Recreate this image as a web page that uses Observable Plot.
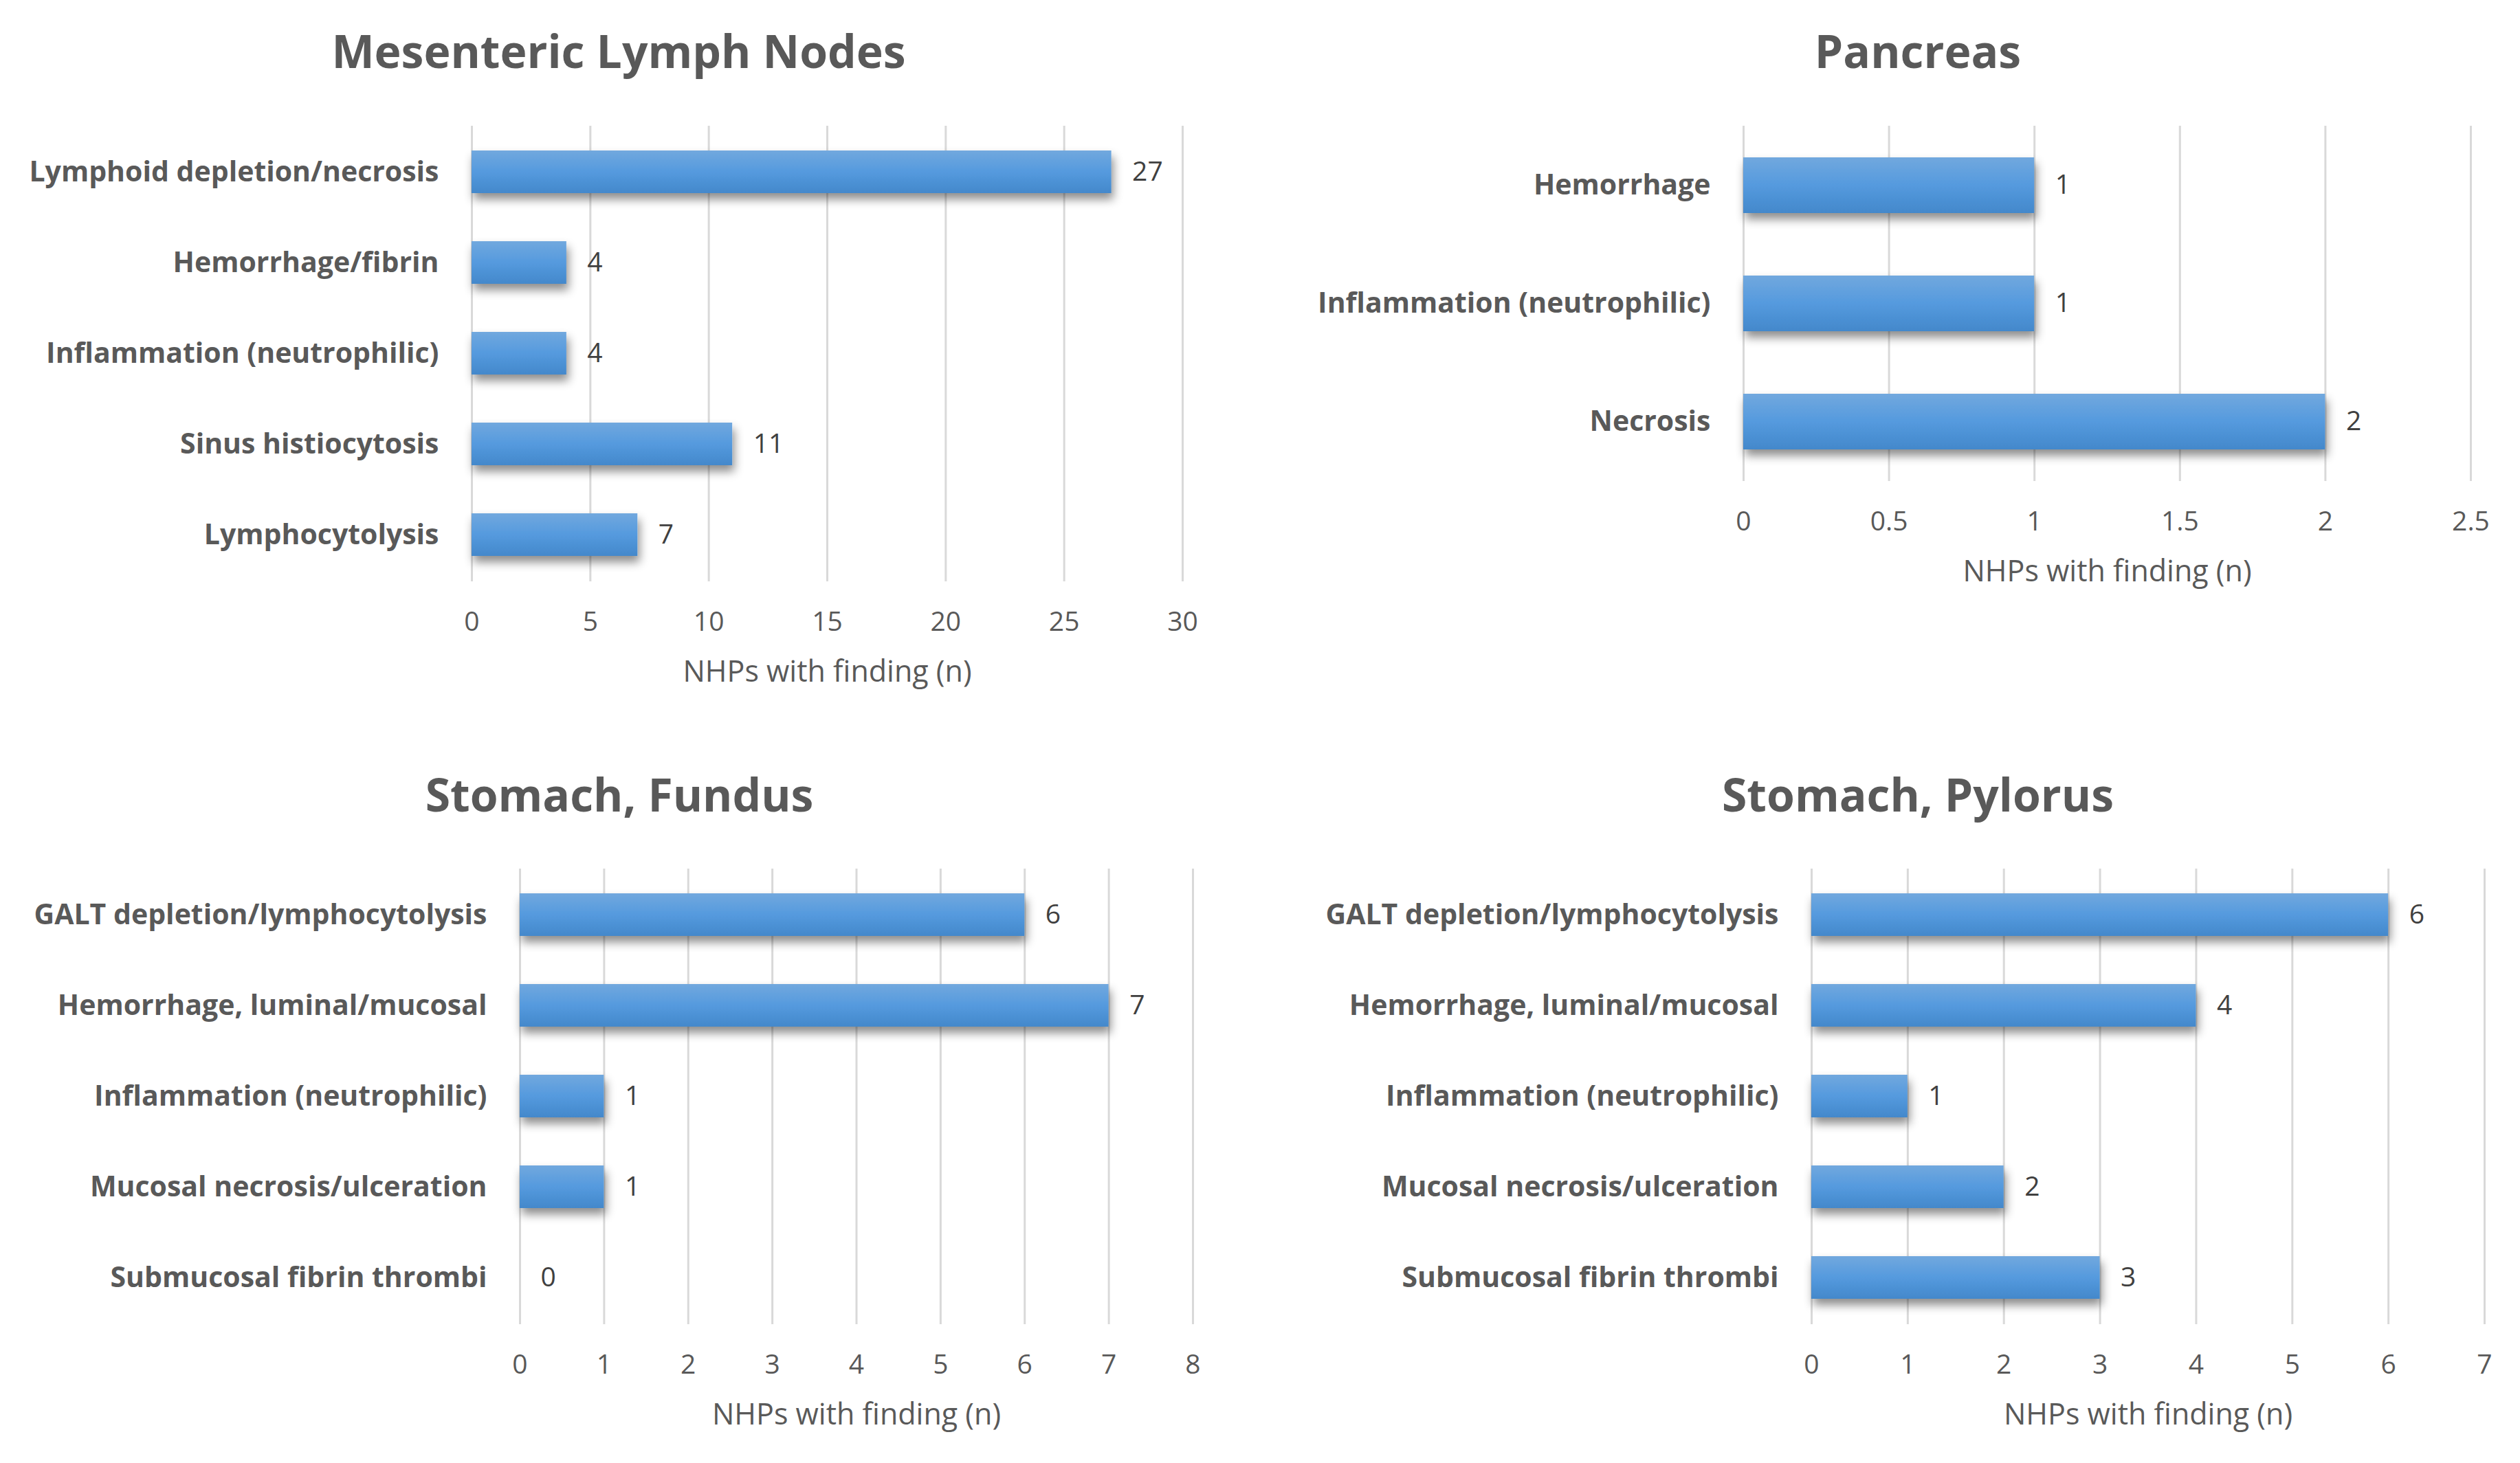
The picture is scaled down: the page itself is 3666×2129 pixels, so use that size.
<!DOCTYPE html>
<html><head><meta charset="utf-8">
<script src="https://cdn.jsdelivr.net/npm/d3@7"></script>
<script src="https://cdn.jsdelivr.net/npm/@observablehq/plot@0.6"></script>
<style>
body{margin:0;background:#fff;font-family:"Open Sans",sans-serif;}
#page{position:relative;width:3666px;height:2129px;overflow:hidden;background:#fff;}
.panel{position:absolute;}
.title{position:absolute;transform:translate(-50%,-50%);font-weight:bold;color:#595959;font-size:66px;white-space:nowrap;font-family:"Open Sans",sans-serif;}
</style></head><body><div id="page"></div>
<script>
// ---- Data ----
const mlnTitle = "Mesenteric Lymph Nodes";
const mlnCategories = ["Lymphoid depletion/necrosis", "Hemorrhage/fibrin", "Inflammation (neutrophilic)", "Sinus histiocytosis", "Lymphocytolysis"];
const mlnValues = [27, 4, 4, 11, 7];
const mlnTicks = [0, 5, 10, 15, 20, 25, 30];

const pancreasTitle = "Pancreas";
const pancreasCategories = ["Hemorrhage", "Inflammation (neutrophilic)", "Necrosis"];
const pancreasValues = [1, 1, 2];
const pancreasTicks = [0, 0.5, 1, 1.5, 2, 2.5];

const fundusTitle = "Stomach, Fundus";
const fundusCategories = ["GALT depletion/lymphocytolysis", "Hemorrhage, luminal/mucosal", "Inflammation (neutrophilic)", "Mucosal necrosis/ulceration", "Submucosal fibrin thrombi"];
const fundusValues = [6, 7, 1, 1, 0];
const fundusTicks = [0, 1, 2, 3, 4, 5, 6, 7, 8];

const pylorusTitle = "Stomach, Pylorus";
const pylorusCategories = ["GALT depletion/lymphocytolysis", "Hemorrhage, luminal/mucosal", "Inflammation (neutrophilic)", "Mucosal necrosis/ulceration", "Submucosal fibrin thrombi"];
const pylorusValues = [6, 4, 1, 2, 3];
const pylorusTicks = [0, 1, 2, 3, 4, 5, 6, 7];

const axisLabel = "NHPs with finding (n)";

// ---- Layout ----
const page = document.getElementById("page");
const FONT = '"Open Sans", sans-serif';

function makePanel(cfg) {
  const rows = cfg.categories.map((c, i) => ({category: c, value: cfg.values[i]}));
  const id = cfg.id;
  const svg = Plot.plot({
    width: cfg.width,
    height: cfg.height,
    marginLeft: cfg.mL,
    marginRight: cfg.mR,
    marginTop: cfg.mT,
    marginBottom: cfg.mB,
    style: {fontFamily: FONT, background: "transparent", overflow: "visible"},
    x: {domain: [0, cfg.ticks[cfg.ticks.length - 1]], label: null},
    y: {domain: cfg.categories, paddingInner: 0.53, paddingOuter: 0.265, label: null},
    marks: [
      Plot.gridX(cfg.ticks, {stroke: "#d9d9d9", strokeOpacity: 1, strokeWidth: 3}),
      Plot.axisX(cfg.ticks, {tickSize: 0, tickPadding: 44, fontSize: 39, fill: "#595959", tickFormat: d => String(d), label: null}),
      Plot.axisY({tickSize: 0, tickPadding: 48, fontSize: 41, fontWeight: "bold", fill: "#595959", label: null}),
      Plot.barX(rows, {x: "value", y: "category", fill: `url(#grad-${id})`}),
      Plot.text(rows, {x: "value", y: "category", text: d => String(d.value), dx: 30, textAnchor: "start", fontSize: 39, fill: "#404040"}),
      Plot.text([axisLabel], {text: d => d, frameAnchor: "bottom", dy: 132, lineAnchor: "middle", fontSize: 43, fill: "#595959"})
    ]
  });
  const s = d3.select(svg);
  s.insert("defs", ":first-child").html(`
    <linearGradient id="grad-${id}" x1="0" y1="0" x2="0" y2="1">
      <stop offset="0" stop-color="#71a8de"/>
      <stop offset="0.5" stop-color="#559ade"/>
      <stop offset="1" stop-color="#4388cb"/>
    </linearGradient>
    <filter id="shadow-${id}" x="-10%" y="-30%" width="130%" height="190%">
      <feDropShadow dx="3" dy="9" stdDeviation="7" flood-color="#000" flood-opacity="0.45"/>
    </filter>`);
  s.selectAll('g[aria-label="bar"]').attr("filter", `url(#shadow-${id})`);
  const div = document.createElement("div");
  div.className = "panel";
  div.style.left = cfg.left + "px";
  div.style.top = cfg.top + "px";
  div.appendChild(svg);
  page.appendChild(div);
  const t = document.createElement("div");
  t.className = "title";
  t.textContent = cfg.title;
  t.style.left = cfg.titleX + "px";
  t.style.top = cfg.titleY + "px";
  page.appendChild(t);
}

makePanel({id: "mln", title: mlnTitle, categories: mlnCategories, values: mlnValues, ticks: mlnTicks,
  left: 0, top: 0, width: 1800, height: 1040, mL: 686, mR: 80, mT: 183, mB: 194, titleX: 900, titleY: 73});
makePanel({id: "pan", title: pancreasTitle, categories: pancreasCategories, values: pancreasValues, ticks: pancreasTicks,
  left: 1840, top: 0, width: 1826, height: 900, mL: 696, mR: 72, mT: 183, mB: 200, titleX: 2790, titleY: 73});
makePanel({id: "fun", title: fundusTitle, categories: fundusCategories, values: fundusValues, ticks: fundusTicks,
  left: 0, top: 1060, width: 1800, height: 1069, mL: 756, mR: 65, mT: 204, mB: 202, titleX: 901, titleY: 1155});
makePanel({id: "pyl", title: pylorusTitle, categories: pylorusCategories, values: pylorusValues, ticks: pylorusTicks,
  left: 1840, top: 1060, width: 1826, height: 1069, mL: 795, mR: 52, mT: 204, mB: 202, titleX: 2790, titleY: 1155});
</script>
</body></html>
